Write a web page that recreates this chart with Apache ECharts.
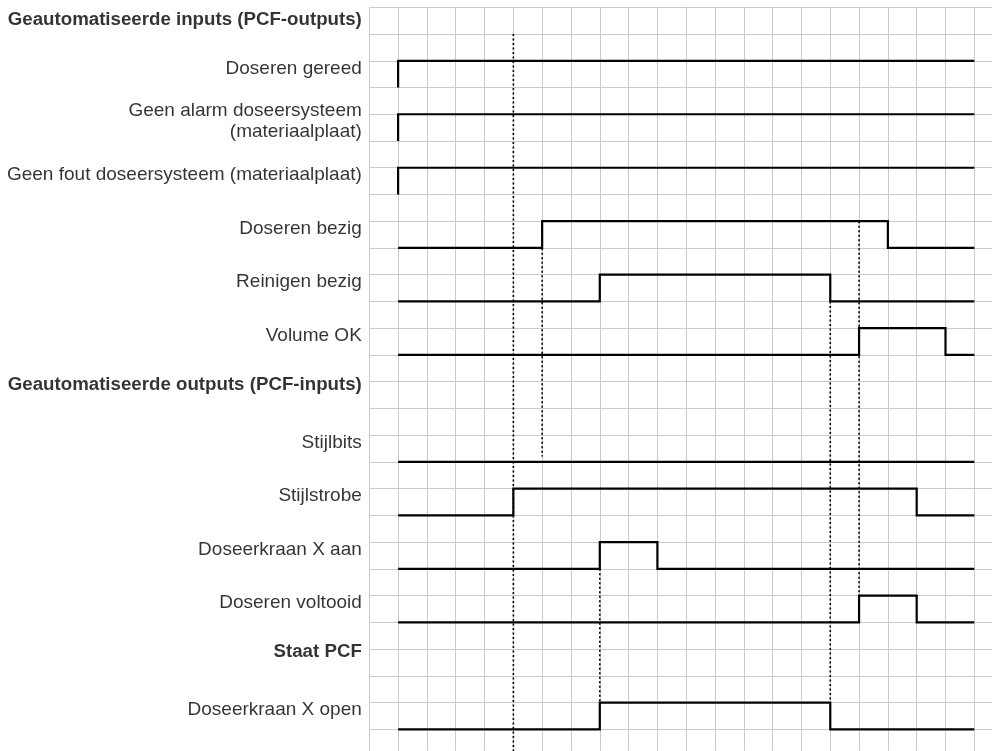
<!DOCTYPE html>
<html>
<head>
<meta charset="utf-8">
<script src="https://cdn.jsdelivr.net/npm/echarts@6/dist/echarts.min.js"></script>
<style>
html, body { margin: 0; padding: 0; background: #fff; }
#chart { width: 992px; height: 751px; }
</style>
</head>
<body>
<div id="chart"></div>
<script>
// row labels (k = grid row, counted from the top line)
const labelTexts = [
    'Geautomatiseerde inputs (PCF-outputs)',
    'Doseren gereed',
    'Geen alarm doseersysteem\n(materiaalplaat)',
    'Geen fout doseersysteem (materiaalplaat)',
    'Doseren bezig',
    'Reinigen bezig',
    'Volume OK',
    'Geautomatiseerde outputs (PCF-inputs)',
    'Stijlbits',
    'Stijlstrobe',
    'Doseerkraan X aan',
    'Doseren voltooid',
    'Staat PCF',
    'Doseerkraan X open'
]
const labelRows = [0.47, 2.28, 4.25, 6.28, 8.28, 10.28, 12.28, 14.12, 16.28, 18.28, 20.28, 22.28, 24.12, 26.28]
const labelBold = [true, false, false, false, false, false, false, true, false, false, false, false, true, false]

// signals: row of the high level, then [time, level] edges
const signalRows = [2, 4, 6, 8, 10, 12, 16, 18, 20, 22, 26]
const signalEdges = [
    [[1, 0], [1, 1], [21, 1]],
    [[1, 0], [1, 1], [21, 1]],
    [[1, 0], [1, 1], [21, 1]],
    [[1, 0], [6, 1], [18, 0], [21, 0]],
    [[1, 0], [8, 1], [16, 0], [21, 0]],
    [[1, 0], [17, 1], [20, 0], [21, 0]],
    [[1, 0], [21, 0]],
    [[1, 0], [5, 1], [19, 0], [21, 0]],
    [[1, 0], [8, 1], [10, 0], [21, 0]],
    [[1, 0], [17, 1], [19, 0], [21, 0]],
    [[1, 0], [8, 1], [16, 0], [21, 0]]
]

// dotted guide lines
const guideX = [5, 6, 8, 16, 17]
const guideFrom = [1, 8, 21, 11, 8]
const guideTo = [27.81, 16.8, 26, 26, 22]

const font = 'Liberation Sans, Arial, Helvetica, sans-serif'
const colW = 28.81
const rowH = 26.74
const xMax = 21.61   // grid runs off the right edge
const yMax = 27.81   // and off the bottom edge

function signalPoints(row, edges) {
    const pts = []
    let prevY = null
    edges.forEach(([x, level]) => {
        const y = row + (level ? 0 : 1)
        if (prevY !== null && prevY !== y) pts.push([x, prevY])
        pts.push([x, y])
        prevY = y
    })
    return pts
}

const series = []

signalRows.forEach((row, i) => {
    series.push({
        type: 'line',
        data: signalPoints(row, signalEdges[i]),
        symbol: 'none',
        clip: false,
        lineStyle: { color: '#000', width: 2.2, join: 'miter' },
        z: 5
    })
})

guideX.forEach((x, i) => {
    series.push({
        type: 'line',
        data: [[x, guideFrom[i]], [x, guideTo[i]]],
        symbol: 'none',
        clip: false,
        lineStyle: { color: '#000', width: 1.6, type: [2, 2.5] },
        z: 4
    })
})

series.push({
    type: 'scatter',
    symbolSize: 1,
    itemStyle: { color: 'rgba(0,0,0,0)' },
    clip: false,
    data: labelTexts.map((t, i) => ({
        value: [0, labelRows[i]],
        name: t,
        label: labelBold[i] ? { fontWeight: 'bold', fontSize: 18.7 } : {}
    })),
    label: {
        show: true,
        position: 'left',
        distance: 7,
        align: 'right',
        formatter: p => p.name,
        color: '#000',
        fontSize: 19,
        lineHeight: 21,
        fontFamily: font
    },
    z: 6
})

const chart = echarts.init(document.getElementById('chart'))
chart.setOption({
    animation: false,
    backgroundColor: '#fff',
    grid: { left: 369.3, top: 7.3, width: colW * xMax, height: rowH * yMax },
    xAxis: {
        type: 'value', min: 0, max: xMax, interval: 1,
        axisLine: { show: false }, axisTick: { show: false }, axisLabel: { show: false },
        splitLine: { show: true, showMaxLine: false, lineStyle: { color: '#cbcbcb', width: 1 } }
    },
    yAxis: {
        type: 'value', min: 0, max: yMax, interval: 1, inverse: true,
        axisLine: { show: false }, axisTick: { show: false }, axisLabel: { show: false },
        splitLine: { show: true, showMaxLine: false, lineStyle: { color: '#cbcbcb', width: 1 } }
    },
    series: series
})
</script>
</body>
</html>
